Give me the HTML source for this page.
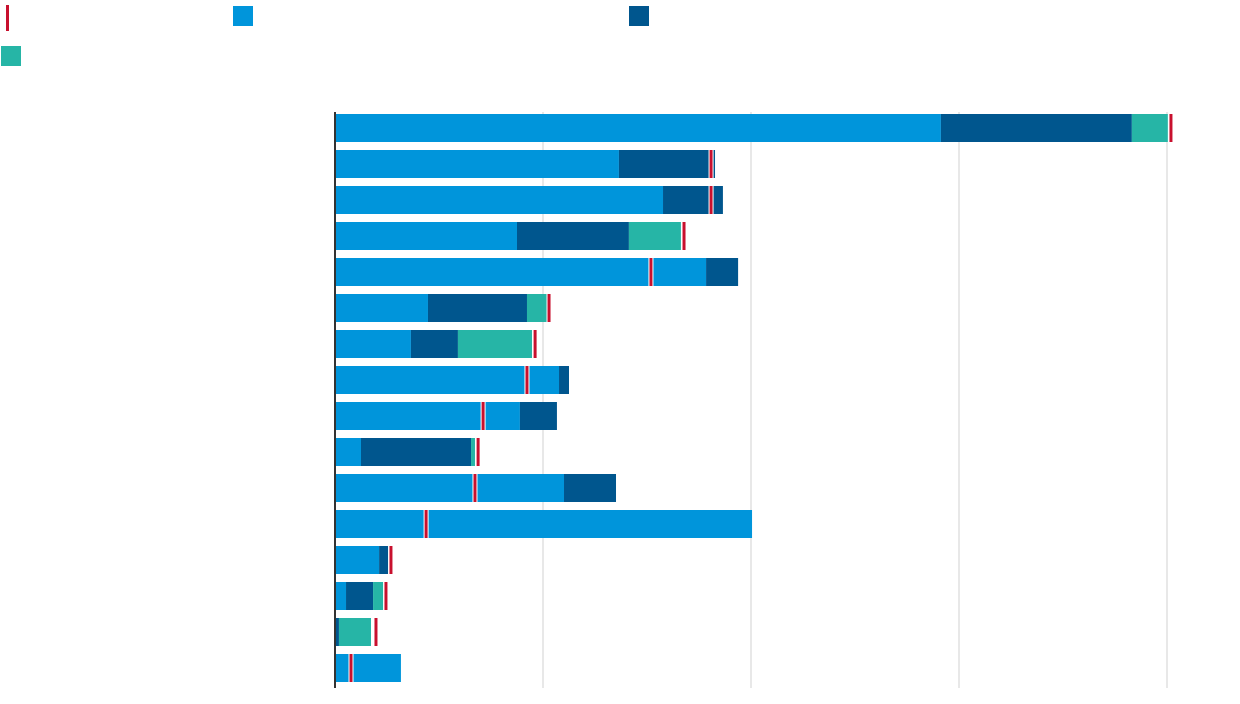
<!DOCTYPE html>
<html><head><meta charset="utf-8">
<style>
html,body{margin:0;padding:0;background:#fff;width:1240px;height:704px;overflow:hidden;font-family:"Liberation Sans",sans-serif;}
.lg{position:absolute;}
</style></head>
<body>
<div class="lg" style="left:6px;top:5px;width:3px;height:26px;background:#c8102e"></div>
<div class="lg" style="left:233px;top:6px;width:20px;height:20px;background:#0095db"></div>
<div class="lg" style="left:629px;top:6px;width:20px;height:20px;background:#00568e"></div>
<div class="lg" style="left:1px;top:46px;width:20px;height:20px;background:#26b5a6"></div>
<svg id="chart" width="1240" height="704" style="position:absolute;left:0;top:0"></svg>
<script>
const categories=["r1","r2","r3","r4","r5","r6","r7","r8","r9","r10","r11","r12","r13","r14","r15","r16"];
const series1=[2.913,1.365,1.577,0.875,1.784,0.447,0.365,1.077,0.889,0.125,1.101,2.005,0.212,0.053,0.000,0.317];
const series2=[0.918,0.462,0.288,0.538,0.154,0.476,0.226,0.048,0.178,0.529,0.250,0.000,0.043,0.130,0.019,0.000];
const series3=[0.173,0.000,0.000,0.250,0.000,0.096,0.356,0.000,0.000,0.019,0.000,0.000,0.000,0.048,0.154,0.000];
const totals=[4.019,1.808,1.808,1.678,1.519,1.029,0.962,0.923,0.712,0.688,0.673,0.438,0.269,0.245,0.197,0.077];
const ticks=[0,1,2,3,4];
const NS="http://www.w3.org/2000/svg";
const svg=document.getElementById('chart');
const x0=335,unit=208,top0=112,bottom=688;
const xs=v=>x0+v*unit;
const band=(bottom-top0)/categories.length;
const yc=i=>top0+band*(i+0.5)-2;
const bh=28;
function mk(t,a){const e=document.createElementNS(NS,t);for(const k in a)e.setAttribute(k,a[k]);svg.appendChild(e);return e;}
ticks.forEach(t=>{if(t===0)return;const g=mk('line',{x1:xs(t),x2:xs(t),y1:top0,y2:bottom,stroke:'#d0d0d0','stroke-width':1});

});
const colors=['#0095db','#00568e','#26b5a6'];
const all=[series1,series2,series3];
categories.forEach((c,i)=>{let acc=0;
all.forEach((s,k)=>{const v=s[i];if(v>0){const r=mk('rect',{x:xs(acc),y:yc(i)-bh/2,width:v*unit,height:bh,fill:colors[k]});

}acc+=v;});
const m=mk('rect',{x:xs(totals[i])-2.5,y:yc(i)-bh/2-1,width:5,height:bh+2,fill:'#fff'});


const m2=mk('rect',{x:xs(totals[i])-1.5,y:yc(i)-bh/2,width:3,height:bh,fill:'#c8102e'});


});
const ax=mk('line',{x1:x0,x2:x0,y1:top0,y2:bottom,stroke:'#333','stroke-width':2});


</script>
</body></html>
